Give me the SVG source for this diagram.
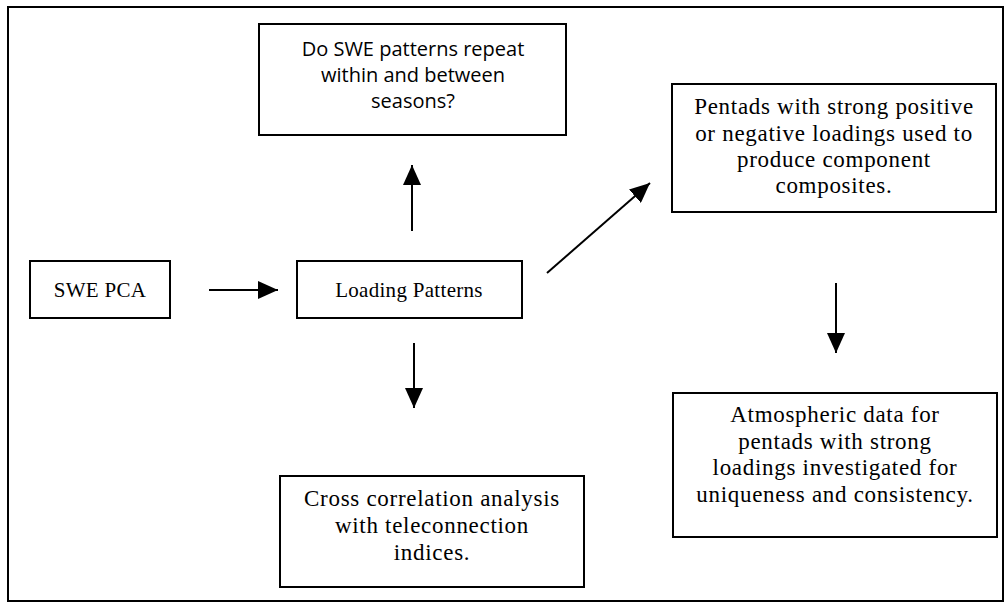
<svg xmlns="http://www.w3.org/2000/svg" width="1007" height="605" viewBox="0 0 1007 605">
  <defs>
    <style>
      .box { fill: #ffffff; stroke: #000000; stroke-width: 2; }
      .frame { fill: none; stroke: #000000; stroke-width: 2; }
      .serif { font-family: "Liberation Serif", "Times New Roman", serif; font-size: 23px; letter-spacing: 0.7px; fill: #000000; text-anchor: middle; }
      .label { font-family: "Liberation Serif", "Times New Roman", serif; font-size: 21px; letter-spacing: 0.3px; fill: #000000; text-anchor: middle; }
      .sans { font-family: "Open Sans", "Lato", "DejaVu Sans", sans-serif; font-size: 20px; fill: #000000; text-anchor: middle; }
      .conn { stroke: #000000; stroke-width: 2; fill: none; }
    </style>
    <marker id="head" markerUnits="userSpaceOnUse" markerWidth="22" markerHeight="18" refX="20" refY="9" orient="auto">
      <path d="M0,0 L20,9 L0,18 Z" fill="#000000"/>
    </marker>
  </defs>

  <rect width="1007" height="605" fill="#ffffff"/>
  <!-- outer frame -->
  <rect class="frame" x="8" y="7" width="995" height="594"/>

  <!-- connectors -->
  <g id="connectors">
    <line class="conn" x1="209" y1="290" x2="278" y2="290" marker-end="url(#head)"/>
    <line class="conn" x1="412" y1="231" x2="412" y2="165" marker-end="url(#head)"/>
    <line class="conn" x1="414" y1="343" x2="414" y2="408" marker-end="url(#head)"/>
    <line class="conn" x1="547" y1="273" x2="650" y2="183" marker-end="url(#head)"/>
    <line class="conn" x1="836" y1="283" x2="836" y2="353" marker-end="url(#head)"/>
  </g>

  <!-- nodes -->
  <g id="node-question">
    <rect class="box" x="259" y="24" width="307" height="111"/>
    <text class="sans" x="413" y="56">Do SWE patterns repeat</text>
    <text class="sans" x="413" y="82">within and between</text>
    <text class="sans" x="413" y="108">seasons?</text>
  </g>

  <g id="node-pentads">
    <rect class="box" x="672" y="84" width="324" height="128"/>
    <text class="serif" x="834" y="114">Pentads with strong positive</text>
    <text class="serif" x="834" y="141">or negative loadings used to</text>
    <text class="serif" x="834" y="167">produce component</text>
    <text class="serif" x="834" y="193">composites.</text>
  </g>

  <g id="node-pca">
    <rect class="box" x="30" y="261" width="140" height="57"/>
    <text class="label" x="100" y="297">SWE PCA</text>
  </g>

  <g id="node-loading">
    <rect class="box" x="297" y="261" width="225" height="57"/>
    <text class="label" x="409" y="297">Loading Patterns</text>
  </g>

  <g id="node-atmospheric">
    <rect class="box" x="673" y="393" width="324" height="144"/>
    <text class="serif" x="835" y="422">Atmospheric data for</text>
    <text class="serif" x="835" y="449">pentads with strong</text>
    <text class="serif" x="835" y="475">loadings investigated for</text>
    <text class="serif" x="835" y="502">uniqueness and consistency.</text>
  </g>

  <g id="node-crosscorr">
    <rect class="box" x="280" y="476" width="304" height="111"/>
    <text class="serif" x="432" y="506">Cross correlation analysis</text>
    <text class="serif" x="432" y="533">with teleconnection</text>
    <text class="serif" x="432" y="560">indices.</text>
  </g>
</svg>
